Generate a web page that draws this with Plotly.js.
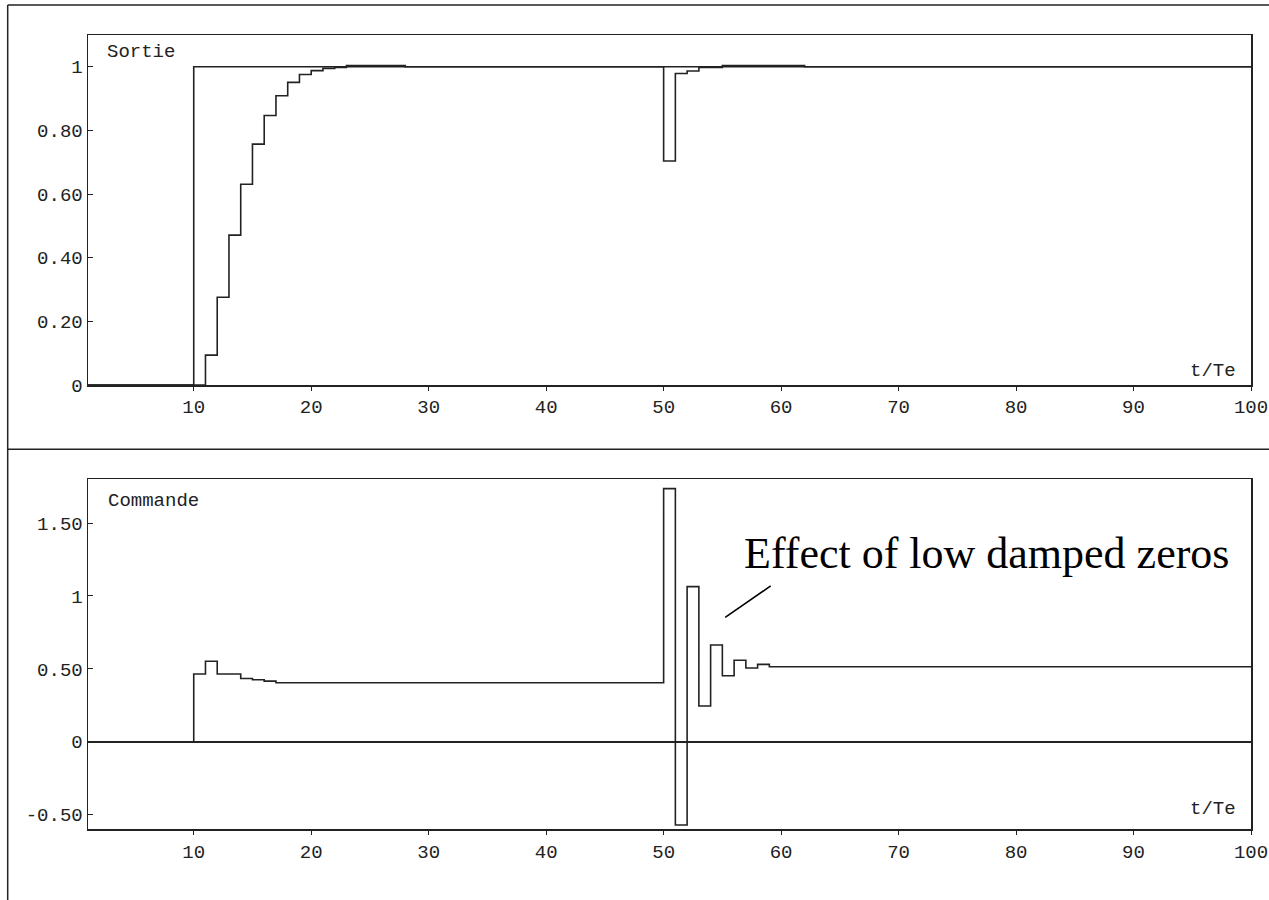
<!DOCTYPE html>
<html>
<head>
<meta charset="utf-8">
<script src="https://cdn.plot.ly/plotly-3.0.1.min.js"></script>
<style>html,body{margin:0;padding:0;background:#fff;}#chart{width:1269px;height:900px;}</style>
</head>
<body>
<div id="chart"></div>
<script>
// ---- data ----
var tRef = [1, 10, 100];
var yRef = [0, 1, 1];

var tOut = [1, 11, 12, 13, 14, 15, 16, 17, 18, 19, 20, 21, 22, 23, 28, 50, 51, 52, 53, 55, 62, 100];
var yOut = [0, 0.094, 0.276, 0.471, 0.631, 0.757, 0.847, 0.909, 0.951, 0.976, 0.988, 0.995, 0.998, 1.004, 1.0, 0.704, 0.979, 0.987, 0.998, 1.004, 1.0, 1.0];

var tCmd = [1, 10, 11, 12, 14, 15, 16, 17, 50, 51, 52, 53, 54, 55, 56, 57, 58, 59, 100];
var uCmd = [0, 0.465, 0.552, 0.465, 0.434, 0.425, 0.416, 0.405, 1.736, -0.570, 1.064, 0.246, 0.664, 0.453, 0.559, 0.506, 0.531, 0.515, 0.515];

var xTickVals = [10, 20, 30, 40, 50, 60, 70, 80, 90, 100];
var xTickText = ['10', '20', '30', '40', '50', '60', '70', '80', '90', '100'];
var yTopVals = [0, 0.2, 0.4, 0.6, 0.8, 1];
var yTopText = ['0', '0.20', '0.40', '0.60', '0.80', '1'];
var yBotVals = [-0.5, 0, 0.5, 1, 1.5];
var yBotText = ['-0.50', '0', '0.50', '1', '1.50'];

var topLabel = 'Sortie';
var botLabel = 'Commande';
var axisLabel = 't/Te';
var noteText = 'Effect of low damped zeros';

// ---- drawing ----
var W = 1269, H = 900;
function px(x) { return x / W; }
function py(y) { return 1 - y / H; }

var ink = '#222';
var lineStyle = { color: ink, width: 1.6, shape: 'hv' };
var mono = { family: 'Liberation Mono, monospace', size: 19, color: ink };

var traces = [
  { x: tRef, y: yRef, mode: 'lines', line: lineStyle, xaxis: 'x', yaxis: 'y', hoverinfo: 'skip' },
  { x: tOut, y: yOut, mode: 'lines', line: lineStyle, xaxis: 'x', yaxis: 'y', hoverinfo: 'skip' },
  { x: tCmd, y: uCmd, mode: 'lines', line: lineStyle, xaxis: 'x2', yaxis: 'y2', hoverinfo: 'skip' }
];

function xAxis(anchor) {
  return {
    domain: [px(88), px(1251)], range: [1, 100], anchor: anchor,
    showgrid: false, zeroline: false, showline: true, mirror: true,
    linecolor: ink, linewidth: 1.5,
    tickmode: 'array', tickvals: xTickVals, ticktext: xTickText,
    ticks: 'outside', ticklen: 4, tickcolor: ink, tickfont: mono
  };
}
function yAxis(anchor, dom, rng, vals, text, zl) {
  return {
    domain: dom, range: rng, anchor: anchor,
    showgrid: false, zeroline: zl, zerolinecolor: ink, zerolinewidth: 1.5,
    showline: true, mirror: true, linecolor: ink, linewidth: 1.5,
    tickmode: 'array', tickvals: vals, ticktext: text,
    ticks: 'inside', ticklen: 5, tickcolor: ink, tickfont: mono
  };
}

var layout = {
  width: W, height: H,
  margin: { l: 0, r: 0, t: 0, b: 0 },
  paper_bgcolor: '#fff', plot_bgcolor: '#fff',
  showlegend: false,
  xaxis: xAxis('y'),
  yaxis: yAxis('x', [py(385), py(35)], [0, 1.1], yTopVals, yTopText, false),
  xaxis2: xAxis('y2'),
  yaxis2: yAxis('x2', [py(829.3), py(479.3)], [-0.6, 1.8], yBotVals, yBotText, true),
  shapes: [
    { type: 'line', xref: 'paper', yref: 'paper', x0: px(7.7), x1: px(7.7), y0: py(5), y1: 0, line: { color: ink, width: 1.5 } },
    { type: 'line', xref: 'paper', yref: 'paper', x0: px(7.7), x1: 1, y0: py(5), y1: py(5), line: { color: ink, width: 1.5 } },
    { type: 'line', xref: 'paper', yref: 'paper', x0: px(7.7), x1: 1, y0: py(449.3), y1: py(449.3), line: { color: ink, width: 1.5 } },
    { type: 'line', xref: 'paper', yref: 'paper', x0: px(725.2), x1: px(770.7), y0: py(617.4), y1: py(585.9), line: { color: '#000', width: 1.6 } }
  ],
  annotations: [
    { xref: 'paper', yref: 'paper', x: px(105), y: py(52), xanchor: 'left', yanchor: 'middle', text: topLabel, showarrow: false, font: mono },
    { xref: 'paper', yref: 'paper', x: px(106), y: py(501), xanchor: 'left', yanchor: 'middle', text: botLabel, showarrow: false, font: mono },
    { xref: 'paper', yref: 'paper', x: px(1238), y: py(371), xanchor: 'right', yanchor: 'middle', text: axisLabel, showarrow: false, font: mono },
    { xref: 'paper', yref: 'paper', x: px(1238), y: py(809), xanchor: 'right', yanchor: 'middle', text: axisLabel, showarrow: false, font: mono },
    { xref: 'paper', yref: 'paper', x: px(742), y: py(553), xanchor: 'left', yanchor: 'middle', text: noteText, showarrow: false,
      font: { family: 'Liberation Serif, Times New Roman, serif', size: 44, color: '#000' } }
  ]
};

Plotly.newPlot('chart', traces, layout, { staticPlot: true, displayModeBar: false });
</script>
</body>
</html>
